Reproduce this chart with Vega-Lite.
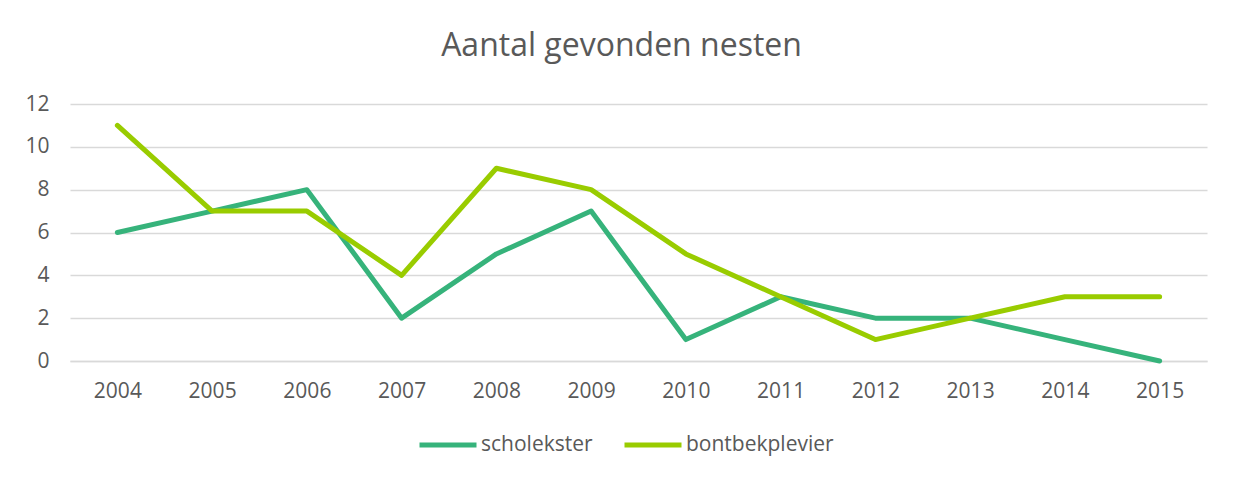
{
  "$schema": "https://vega.github.io/schema/vega-lite/v6.json",
  "width": 1137,
  "height": 257,
  "autosize": {"type": "none"},
  "padding": {"left": 70, "top": 104, "right": 26, "bottom": 119},
  "background": "white",
  "title": {
    "text": "Aantal gevonden nesten",
    "font": "Open Sans",
    "fontSize": 32,
    "fontWeight": "normal",
    "color": "#595959",
    "anchor": "middle",
    "dx": -17,
    "offset": 30
  },
  "data": {
    "values": [
      {"jaar": "2004", "soort": "scholekster", "nesten": 6},
      {"jaar": "2005", "soort": "scholekster", "nesten": 7},
      {"jaar": "2006", "soort": "scholekster", "nesten": 8},
      {"jaar": "2007", "soort": "scholekster", "nesten": 2},
      {"jaar": "2008", "soort": "scholekster", "nesten": 5},
      {"jaar": "2009", "soort": "scholekster", "nesten": 7},
      {"jaar": "2010", "soort": "scholekster", "nesten": 1},
      {"jaar": "2011", "soort": "scholekster", "nesten": 3},
      {"jaar": "2012", "soort": "scholekster", "nesten": 2},
      {"jaar": "2013", "soort": "scholekster", "nesten": 2},
      {"jaar": "2014", "soort": "scholekster", "nesten": 1},
      {"jaar": "2015", "soort": "scholekster", "nesten": 0},
      {"jaar": "2004", "soort": "bontbekplevier", "nesten": 11},
      {"jaar": "2005", "soort": "bontbekplevier", "nesten": 7},
      {"jaar": "2006", "soort": "bontbekplevier", "nesten": 7},
      {"jaar": "2007", "soort": "bontbekplevier", "nesten": 4},
      {"jaar": "2008", "soort": "bontbekplevier", "nesten": 9},
      {"jaar": "2009", "soort": "bontbekplevier", "nesten": 8},
      {"jaar": "2010", "soort": "bontbekplevier", "nesten": 5},
      {"jaar": "2011", "soort": "bontbekplevier", "nesten": 3},
      {"jaar": "2012", "soort": "bontbekplevier", "nesten": 1},
      {"jaar": "2013", "soort": "bontbekplevier", "nesten": 2},
      {"jaar": "2014", "soort": "bontbekplevier", "nesten": 3},
      {"jaar": "2015", "soort": "bontbekplevier", "nesten": 3}
    ]
  },
  "mark": {"type": "line", "strokeWidth": 5, "strokeCap": "round", "strokeJoin": "round"},
  "encoding": {
    "x": {
      "field": "jaar",
      "type": "ordinal",
      "scale": {"type": "point", "padding": 0.5},
      "axis": {
        "title": null,
        "labelAngle": 0,
        "ticks": false,
        "domainColor": "#D9D9D9",
        "domainWidth": 1.5,
        "labelFont": "Open Sans",
        "labelFontSize": 21,
        "labelColor": "#595959",
        "labelPadding": 19,
        "grid": false
      }
    },
    "y": {
      "field": "nesten",
      "type": "quantitative",
      "scale": {"domain": [0, 12]},
      "axis": {
        "title": null,
        "values": [0, 2, 4, 6, 8, 10, 12],
        "domain": false,
        "ticks": false,
        "gridColor": "#D9D9D9",
        "gridWidth": 1.5,
        "labelFont": "Open Sans",
        "labelFontSize": 21,
        "labelColor": "#595959",
        "labelPadding": 21
      }
    },
    "color": {
      "field": "soort",
      "type": "nominal",
      "sort": ["scholekster", "bontbekplevier"],
      "scale": {"domain": ["scholekster", "bontbekplevier"], "range": ["#36B37B", "#99CC00"]},
      "legend": {
        "title": null,
        "orient": "none",
        "direction": "horizontal",
        "legendX": 347,
        "legendY": 310,
        "symbolType": "stroke",
        "symbolSize": 3249,
        "symbolStrokeWidth": 5,
        "labelFont": "Open Sans",
        "labelFontSize": 21,
        "labelColor": "#595959",
        "labelOffset": 2,
        "columnPadding": 21
      }
    }
  },
  "config": {"view": {"stroke": null}}
}
